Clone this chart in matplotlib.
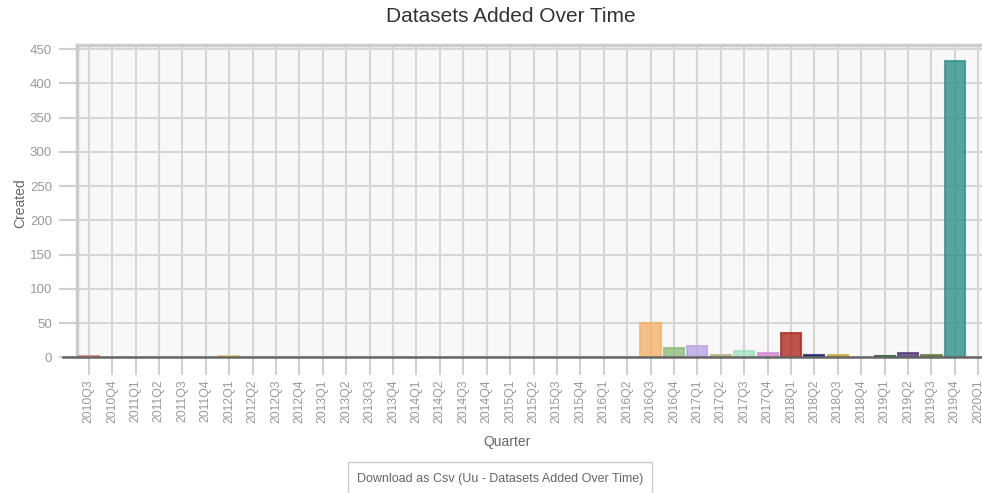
import matplotlib
matplotlib.use("Agg")
import matplotlib.pyplot as plt
from matplotlib.patches import Rectangle
from matplotlib.lines import Line2D

plt.rcParams['font.family'] = ['Liberation Sans', 'DejaVu Sans']

quarters = ["2010Q3", "2010Q4",
            "2011Q1", "2011Q2", "2011Q3", "2011Q4",
            "2012Q1", "2012Q2", "2012Q3", "2012Q4",
            "2013Q1", "2013Q2", "2013Q3", "2013Q4",
            "2014Q1", "2014Q2", "2014Q3", "2014Q4",
            "2015Q1", "2015Q2", "2015Q3", "2015Q4",
            "2016Q1", "2016Q2", "2016Q3", "2016Q4",
            "2017Q1", "2017Q2", "2017Q3", "2017Q4",
            "2018Q1", "2018Q2", "2018Q3", "2018Q4",
            "2019Q1", "2019Q2", "2019Q3", "2019Q4",
            "2020Q1"]
created = [2, 0,
           0, 0, 0, 0,
           2, 0, 0, 0,
           0, 0, 0, 0,
           0, 0, 0, 0,
           0, 0, 0, 0,
           0, 0, 50, 14,
           17, 4, 9, 7,
           36, 4, 4, 0,
           2, 7, 4, 432,
           0]
bar_colors = {
    "2010Q3": "#d98474", "2012Q1": "#dccb6a", "2016Q3": "#f4b26a",
    "2016Q4": "#8fbc80", "2017Q1": "#b7a6e2", "2017Q2": "#b5b584",
    "2017Q3": "#a3dfbf", "2017Q4": "#d68ad0", "2018Q1": "#ae2a22",
    "2018Q2": "#23236a", "2018Q3": "#c9ad38", "2019Q1": "#18501e",
    "2019Q2": "#553a78", "2019Q3": "#66783a", "2019Q4": "#2f918a",
}
yticks = [0, 50, 100, 150, 200, 250, 300, 350, 400, 450]

W, H = 982, 493
fig = plt.figure(figsize=(W / 100, H / 100), dpi=100)
fig.patch.set_facecolor("white")

left_px, right_px, top_px, zero_px = 77, 990, 45, 357.3
ax = fig.add_axes([left_px / W, (H - zero_px) / H,
                   (right_px - left_px) / W, (zero_px - top_px) / H])
ax.set_facecolor("#f8f8f8")

x = list(range(len(quarters)))
for i, (q, v) in enumerate(zip(quarters, created)):
    if v <= 0:
        continue
    c = bar_colors.get(q, "#999999")
    ax.bar(i, v, width=0.86, color=c, alpha=0.8, edgecolor=c,
           linewidth=1.5, zorder=3)

ax.set_xlim(-0.5, len(quarters) - 0.5)
ax.set_ylim(0, 456)
ax.set_xticks(x)
ax.set_xticklabels(quarters, rotation=90, fontsize=8.8, color="#999999")
ax.set_yticks(yticks)
ax.set_yticklabels([str(t) for t in yticks], fontsize=9.5, color="#999999")
ax.tick_params(axis="x", length=13, width=1.5, color="#d0d0d0", pad=3)
ax.tick_params(axis="y", length=13, width=1.5, color="#cfcfcf", pad=5)
ax.grid(True, color="#d6d6d6", linewidth=1.5, zorder=0)
ax.set_axisbelow(True)

for s in ["left", "top"]:
    ax.spines[s].set_color("#cccccc")
    ax.spines[s].set_linewidth(2.5)
ax.spines["right"].set_visible(False)
ax.spines["bottom"].set_visible(False)

# zero line
ax.add_line(Line2D([-14 / (right_px - left_px), 1], [0, 0], transform=ax.transAxes,
                   color="#666666", linewidth=1.8, clip_on=False, zorder=4))

fig.text(511 / W, 1 - 17 / H, "Datasets Added Over Time", ha="center", va="center",
         fontsize=15, color="#333333")
fig.text(20 / W, 1 - 203 / H, "Created", ha="center", va="center", rotation=90,
         fontsize=10, color="#666666")
fig.text(507 / W, 1 - 442 / H, "Quarter", ha="center", va="center",
         fontsize=10, color="#666666")

# download button
fig.patches.append(Rectangle((348 / W, -0.02), (652 - 348) / W, (H - 462) / H + 0.02,
                             transform=fig.transFigure, facecolor="white",
                             edgecolor="#cccccc", linewidth=1))
fig.text(500 / W, 1 - 479 / H, "Download as Csv (Uu - Datasets Added Over Time)",
         ha="center", va="center", fontsize=9, color="#666666")

fig.savefig("out.png", dpi=100)
